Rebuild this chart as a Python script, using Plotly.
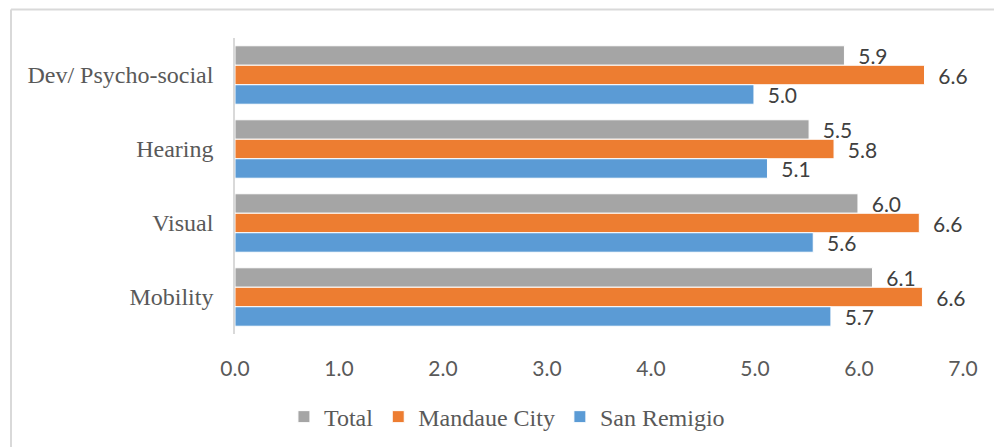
import plotly.graph_objects as go

# Data
categories = ['Dev/ Psycho-social', 'Hearing', 'Visual', 'Mobility']
total = [5.86, 5.52, 5.99, 6.13]
mandaue = [6.63, 5.76, 6.58, 6.61]
san_remigio = [4.99, 5.12, 5.56, 5.73]
x_ticks = [0, 1, 2, 3, 4, 5, 6, 7]

series = [('Total', total, '#A5A5A5'),
          ('Mandaue City', mandaue, '#ED7D31'),
          ('San Remigio', san_remigio, '#5B9BD5')]

W, H = 994, 447
ML, MR, MT, MB = 235, 31, 38, 113
pw, ph = W - ML - MR, H - MT - MB

fig = go.Figure()
for name, vals, color in series:
    fig.add_trace(go.Bar(
        y=categories, x=vals, name=name, orientation='h',
        marker=dict(color=color, line=dict(color='white', width=1)),
        texttemplate='\u00a0\u00a0%{x:.1f}', textposition='outside',
        textfont=dict(family='Lato', size=21, color='#404040'),
        constraintext='none', cliponaxis=False,
    ))

# light border of the chart area (top and left edges only)
def px_x(p):
    return (p - ML) / pw

def px_y(p):
    return (MT + ph - p) / ph

fig.add_shape(type='line', xref='paper', yref='paper',
              x0=px_x(11), x1=px_x(994), y0=px_y(9.5), y1=px_y(9.5),
              line=dict(color='#D9D9D9', width=2))
fig.add_shape(type='line', xref='paper', yref='paper',
              x0=px_x(11), x1=px_x(11), y0=px_y(9.5), y1=px_y(447),
              line=dict(color='#D9D9D9', width=2))

fig.update_layout(
    width=W, height=H,
    margin=dict(l=ML, r=MR, t=MT, b=MB),
    paper_bgcolor='white', plot_bgcolor='white',
    barmode='group', bargap=0.21, bargroupgap=0,
    showlegend=True,
    legend=dict(orientation='h', xref='container', yref='container',
                x=0.51, y=0.067, xanchor='center', yanchor='middle',
                font=dict(family='Liberation Serif', size=24, color='#595959'),
                itemwidth=30, traceorder='normal'),
    xaxis=dict(range=[0, 7], tickvals=x_ticks, tickformat='.1f',
               showgrid=False, zeroline=False, showline=False,
               ticklabelstandoff=20,
               tickfont=dict(family='Lato', size=21, color='#595959')),
    yaxis=dict(autorange='reversed', showgrid=False, zeroline=False,
               showline=True, linecolor='#D9D9D9', linewidth=1.5,
               ticklabelstandoff=15,
               tickfont=dict(family='Liberation Serif', size=24, color='#595959')),
)

fig.write_html('out.html', config={'displayModeBar': False},
               post_script="document.body.style.margin='0';")
